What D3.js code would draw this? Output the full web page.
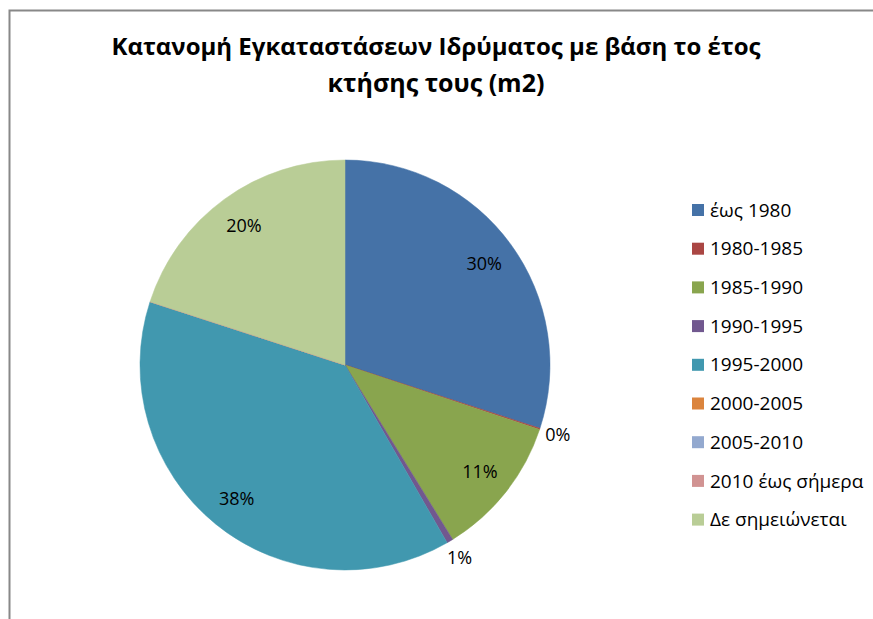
<!DOCTYPE html>
<html>
<head>
<meta charset="utf-8">
<script src="https://cdn.jsdelivr.net/npm/d3@7"></script>
<style>
  html, body { margin: 0; padding: 0; background: #fff; }
  svg { display: block; }
</style>
</head>
<body>
<svg id="chart" width="873" height="619"></svg>
<script>
const titleLines = ["Κατανομή Εγκαταστάσεων Ιδρύματος με βάση το έτος", "κτήσης τους (m2)"];
const categories = ["έως 1980", "1980-1985", "1985-1990", "1990-1995", "1995-2000", "2000-2005", "2005-2010", "2010 έως σήμερα", "Δε σημειώνεται"];
const values = [30.0, 0.1, 11.1, 0.5, 38.3, 0, 0, 0, 20.0];
const colors = ["#4572A7", "#AA4643", "#89A54E", "#71588F", "#4198AF", "#DB843D", "#93A9CF", "#D19392", "#B9CD96"];

const svg = d3.select("#chart");
const font = "'Open Sans', 'Noto Sans', sans-serif";

// outer chart border
svg.append("rect")
  .attr("x", 9.5).attr("y", 10.5)
  .attr("width", 900).attr("height", 700)
  .attr("fill", "#fff").attr("stroke", "#888").attr("stroke-width", 2);

// title
svg.append("g").selectAll("text").data(titleLines).join("text")
  .attr("x", 436).attr("y", (d, i) => 55 + i * 37)
  .attr("text-anchor", "middle")
  .attr("font-family", font).attr("font-weight", "bold")
  .attr("font-size", (d, i) => i === 0 ? 24 : 25).attr("fill", "#000")
  .text(d => d);

const cx = 345, cy = 365, R = 205;
const total = d3.sum(values);
const data = categories.map((c, i) => ({ cat: c, value: values[i], color: colors[i] }));

const pie = d3.pie().sort(null).value(d => d.value);
const arcs = pie(data);
const arc = d3.arc().innerRadius(0).outerRadius(R);
const inLabel = d3.arc().innerRadius(172).outerRadius(172);
const outLabel = d3.arc().innerRadius(224).outerRadius(224);

const g = svg.append("g").attr("transform", `translate(${cx},${cy})`);
g.selectAll("path").data(arcs).join("path")
  .attr("d", arc)
  .attr("fill", d => d.data.color)
  .attr("stroke", d => d.data.color).attr("stroke-width", 0.5);

g.selectAll("text").data(arcs.filter(d => d.data.value > 0)).join("text")
  .attr("transform", d => {
    const p = (d.data.value / total < 0.02 ? outLabel : inLabel).centroid(d);
    return `translate(${p[0]},${p[1]})`;
  })
  .attr("text-anchor", "middle").attr("dy", "0.35em")
  .attr("font-family", font).attr("font-size", 18).attr("fill", "#000")
  .text(d => Math.round(d.data.value / total * 100) + "%");

// legend
const legend = svg.append("g").attr("transform", "translate(692,210)");
const rows = legend.selectAll("g").data(data).join("g")
  .attr("transform", (d, i) => `translate(0,${i * 38.7})`);
rows.append("rect").attr("x", 0).attr("y", -6).attr("width", 12).attr("height", 12)
  .attr("fill", d => d.color);
rows.append("text").attr("x", 18).attr("y", 0).attr("dy", "0.35em")
  .attr("font-family", font).attr("font-size", 19).attr("fill", "#000")
  .text(d => d.cat);
</script>
</body>
</html>
